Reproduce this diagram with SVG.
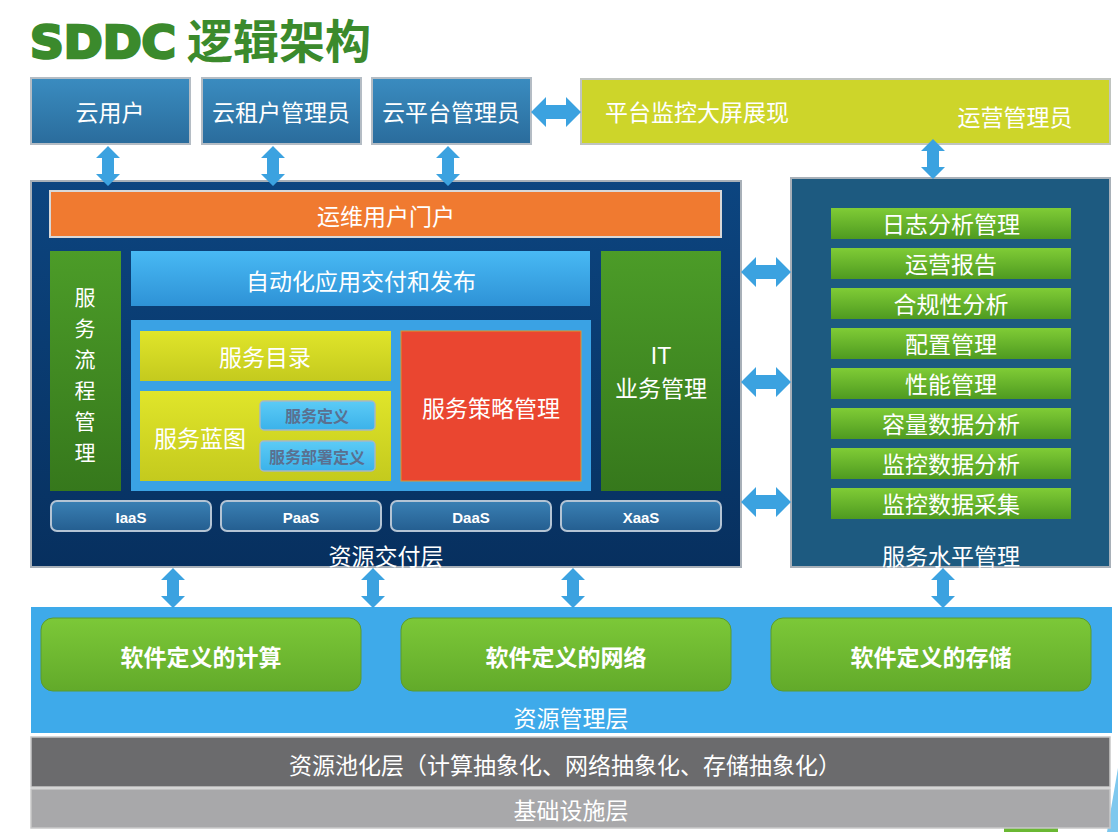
<svg xmlns="http://www.w3.org/2000/svg" width="1118" height="832" viewBox="0 0 1118 832">
<defs>
<linearGradient id="gTop" x1="0" y1="0" x2="0" y2="1"><stop offset="0" stop-color="#3a8cc0"/><stop offset="1" stop-color="#2a6c9c"/></linearGradient>
<linearGradient id="gNavy" x1="0" y1="0" x2="0" y2="1"><stop offset="0" stop-color="#0c4580"/><stop offset="1" stop-color="#07305f"/></linearGradient>
<linearGradient id="gGreenCol" x1="0" y1="0" x2="0" y2="1"><stop offset="0" stop-color="#4c9c28"/><stop offset="1" stop-color="#36781c"/></linearGradient>
<linearGradient id="gBlueBar" x1="0" y1="0" x2="0" y2="1"><stop offset="0" stop-color="#48b9f4"/><stop offset="1" stop-color="#2e92d6"/></linearGradient>
<linearGradient id="gYellow" x1="0" y1="0" x2="0" y2="1"><stop offset="0" stop-color="#e0e52a"/><stop offset="1" stop-color="#c4ca1e"/></linearGradient>
<linearGradient id="gSmall" x1="0" y1="0" x2="0" y2="1"><stop offset="0" stop-color="#5ccbf6"/><stop offset="1" stop-color="#3bb2ea"/></linearGradient>
<linearGradient id="gXaas" x1="0" y1="0" x2="0" y2="1"><stop offset="0" stop-color="#3a80b4"/><stop offset="1" stop-color="#245e90"/></linearGradient>
<linearGradient id="gBar" x1="0" y1="0" x2="0" y2="1"><stop offset="0" stop-color="#80cc36"/><stop offset="1" stop-color="#4e9a20"/></linearGradient>
<linearGradient id="gSdx" x1="0" y1="0" x2="0" y2="1"><stop offset="0" stop-color="#7cc838"/><stop offset="1" stop-color="#62aa2a"/></linearGradient>
<path id="av" d="M0,-20 L12,-8 L6,-8 L6,8 L12,8 L0,20 L-12,8 L-6,8 L-6,-8 L-12,-8 Z"/>
<path id="ah" d="M-25,0 L-10,-15 L-10,-7 L10,-7 L10,-15 L25,0 L10,15 L10,7 L-10,7 L-10,15 Z"/>
</defs>
<style>
.t{font-family:"Noto Sans CJK SC","Noto Sans",sans-serif;fill:#ffffff;font-size:23px;text-anchor:middle;dominant-baseline:central}
.v{font-size:21px}
.b{font-weight:bold}
.lat{font-family:"Liberation Sans",Arial,sans-serif;font-weight:bold;font-size:15px;fill:#fff;text-anchor:middle;dominant-baseline:central}
.sm{font-family:"Noto Sans CJK SC",sans-serif;font-weight:bold;font-size:16px;fill:#5a7090;text-anchor:middle;dominant-baseline:central}
.arr{fill:#3ba2e0}
</style>
<rect width="1118" height="832" fill="#ffffff"/>

<g id="title">
<text x="30" y="58" font-family="'DejaVu Sans','Liberation Sans',sans-serif" font-weight="bold" font-size="44" fill="#3b8a2c" stroke="#3b8a2c" stroke-width="2.6" textLength="146" lengthAdjust="spacingAndGlyphs">SDDC</text>
<text x="187" y="58" font-family="'Noto Sans CJK SC',sans-serif" font-weight="bold" font-size="46" fill="#3b8a2c">逻辑架构</text>
</g>

<g id="cloud-user"><rect x="31" y="78" width="159" height="66" fill="url(#gTop)" stroke="#b4bcc4" stroke-width="2"/><text class="t" x="110" y="111">云用户</text></g>
<g id="tenant-admin"><rect x="202" y="78" width="159" height="66" fill="url(#gTop)" stroke="#b4bcc4" stroke-width="2"/><text class="t" x="281" y="111">云租户管理员</text></g>
<g id="platform-admin"><rect x="372" y="78" width="159" height="66" fill="url(#gTop)" stroke="#b4bcc4" stroke-width="2"/><text class="t" x="451" y="111">云平台管理员</text></g>
<g id="monitor-screen"><rect x="581" y="79" width="529" height="65" fill="#cdd52a" stroke="#c0c4c0" stroke-width="2"/><text class="t" x="605" y="111" style="text-anchor:start">平台监控大屏展现</text><text class="t" x="1015" y="116">运营管理员</text></g>

<g id="delivery-layer">
<rect x="31" y="181" width="710" height="386" fill="url(#gNavy)" stroke="#a8b0b8" stroke-width="2"/>
<text class="t" x="386" y="555">资源交付层</text>
</g>
<g id="ops-portal"><rect x="50" y="191" width="671" height="46" fill="#f07a30" stroke="#d8d8d8" stroke-width="2"/><text class="t" x="386" y="215">运维用户门户</text></g>
<g id="service-flow"><rect x="50" y="251" width="71" height="240" fill="url(#gGreenCol)"/>
<text class="t v" x="85" y="296">服</text><text class="t v" x="85" y="327">务</text><text class="t v" x="85" y="358">流</text><text class="t v" x="85" y="389">程</text><text class="t v" x="85" y="420">管</text><text class="t v" x="85" y="451">理</text></g>
<g id="auto-delivery"><rect x="131" y="251" width="459" height="55" fill="url(#gBlueBar)"/><text class="t" x="361" y="280">自动化应用交付和发布</text></g>
<g id="service-panel"><rect x="131" y="320" width="460" height="171" fill="#3aa2e4"/></g>
<g id="service-catalog"><rect x="140" y="331" width="251" height="50" fill="url(#gYellow)"/><text class="t" x="265" y="356">服务目录</text></g>
<g id="service-blueprint"><rect x="140" y="391" width="251" height="90" fill="url(#gYellow)"/><text class="t" x="200" y="437">服务蓝图</text></g>
<g id="service-def"><rect x="260" y="401" width="115" height="29" rx="4" fill="url(#gSmall)" stroke="#a6b8c4" stroke-width="1.5"/><text class="sm" x="317" y="415">服务定义</text></g>
<g id="deploy-def"><rect x="260" y="441" width="115" height="30" rx="4" fill="url(#gSmall)" stroke="#a6b8c4" stroke-width="1.5"/><text class="sm" x="317" y="456">服务部署定义</text></g>
<g id="policy"><rect x="401" y="331" width="180" height="150" fill="#ea4630" stroke="#d89a30" stroke-width="1"/><text class="t" x="491" y="407">服务策略管理</text></g>
<g id="it-business"><rect x="601" y="251" width="120" height="240" fill="url(#gGreenCol)"/><text class="t" x="661" y="356" style="font-family:'Liberation Sans',Arial,sans-serif">IT</text><text class="t" x="661" y="387">业务管理</text></g>
<g id="iaas"><rect x="51" y="501" width="160" height="30" rx="6" fill="url(#gXaas)" stroke="#b4c4d4" stroke-width="2"/><text class="lat" x="131" y="517">IaaS</text></g>
<g id="paas"><rect x="221" y="501" width="160" height="30" rx="6" fill="url(#gXaas)" stroke="#b4c4d4" stroke-width="2"/><text class="lat" x="301" y="517">PaaS</text></g>
<g id="daas"><rect x="391" y="501" width="160" height="30" rx="6" fill="url(#gXaas)" stroke="#b4c4d4" stroke-width="2"/><text class="lat" x="471" y="517">DaaS</text></g>
<g id="xaas"><rect x="561" y="501" width="160" height="30" rx="6" fill="url(#gXaas)" stroke="#b4c4d4" stroke-width="2"/><text class="lat" x="641" y="517">XaaS</text></g>

<g id="service-level">
<rect x="791" y="178" width="319" height="389" fill="#1d5a80" stroke="#a8b0b8" stroke-width="2"/>
<text class="t" x="951" y="555">服务水平管理</text>
</g>
<g id="sl-items">
<rect x="831" y="208" width="240" height="31" fill="url(#gBar)"/><text class="t" x="951" y="223">日志分析管理</text>
<rect x="831" y="248" width="240" height="31" fill="url(#gBar)"/><text class="t" x="951" y="263">运营报告</text>
<rect x="831" y="288" width="240" height="31" fill="url(#gBar)"/><text class="t" x="951" y="303">合规性分析</text>
<rect x="831" y="328" width="240" height="31" fill="url(#gBar)"/><text class="t" x="951" y="343">配置管理</text>
<rect x="831" y="368" width="240" height="31" fill="url(#gBar)"/><text class="t" x="951" y="383">性能管理</text>
<rect x="831" y="408" width="240" height="31" fill="url(#gBar)"/><text class="t" x="951" y="423">容量数据分析</text>
<rect x="831" y="448" width="240" height="31" fill="url(#gBar)"/><text class="t" x="951" y="463">监控数据分析</text>
<rect x="831" y="488" width="240" height="31" fill="url(#gBar)"/><text class="t" x="951" y="503">监控数据采集</text>
</g>

<polygon points="1118,768 1118,832 1107,832" fill="#7ec8ee"/>
<rect x="1004" y="828" width="54" height="4" fill="#6ab832"/>

<g id="resource-mgmt">
<rect x="31" y="607" width="1081" height="126" fill="#3eaaea"/>
<text class="t" x="571" y="717">资源管理层</text>
</g>
<g id="sd-compute"><rect x="41" y="618" width="320" height="73" rx="12" fill="url(#gSdx)" stroke="#5a9a30" stroke-width="1"/><text class="t b" x="201" y="656">软件定义的计算</text></g>
<g id="sd-network"><rect x="401" y="618" width="330" height="73" rx="12" fill="url(#gSdx)" stroke="#5a9a30" stroke-width="1"/><text class="t b" x="566" y="656">软件定义的网络</text></g>
<g id="sd-storage"><rect x="771" y="618" width="320" height="73" rx="12" fill="url(#gSdx)" stroke="#5a9a30" stroke-width="1"/><text class="t b" x="931" y="656">软件定义的存储</text></g>

<g id="pool-layer"><rect x="31" y="737" width="1079" height="50" fill="#6b6b6d" stroke="#c8c8c8" stroke-width="1.5"/><text class="t" x="565" y="764">资源池化层（计算抽象化、网络抽象化、存储抽象化）</text></g>
<g id="infra-layer"><rect x="31" y="789" width="1079" height="39" fill="#a8a8aa" stroke="#c8c8c8" stroke-width="1.5"/><text class="t" x="571" y="809">基础设施层</text></g>

<g id="connectors" class="arr">
<use href="#av" x="108" y="166"/>
<use href="#av" x="273" y="166"/>
<use href="#av" x="448" y="166"/>
<use href="#ah" x="556" y="112"/>
<use href="#av" x="933" y="159"/>
<use href="#ah" x="766" y="272"/>
<use href="#ah" x="766" y="382"/>
<use href="#ah" x="766" y="502"/>
<use href="#av" x="173" y="588"/>
<use href="#av" x="373" y="588"/>
<use href="#av" x="573" y="588"/>
<use href="#av" x="943" y="588"/>
</g>
</svg>
